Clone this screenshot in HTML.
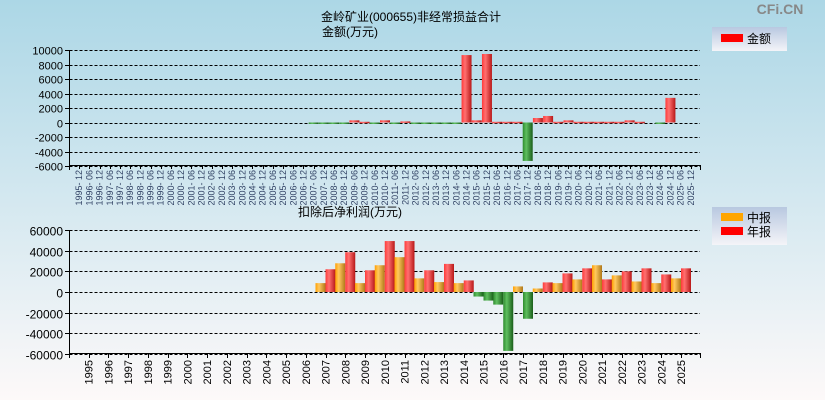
<!DOCTYPE html>
<html><head><meta charset="utf-8">
<style>
html,body{margin:0;padding:0;}
body{width:825px;height:400px;overflow:hidden;font-family:"Liberation Sans","Noto Sans CJK SC",sans-serif;}
svg{display:block;}
</style></head>
<body>
<svg id="chart" width="825" height="400" xmlns="http://www.w3.org/2000/svg">
<defs>
<linearGradient id="bg" x1="0" y1="0" x2="0" y2="1">
<stop offset="0" stop-color="#acd7e6"/><stop offset="0.5" stop-color="#d4e8f0"/><stop offset="1" stop-color="#fdf9f9"/>
</linearGradient>
<linearGradient id="gr" x1="0" y1="0" x2="1" y2="0"><stop offset="0" stop-color="#ff3a3a"/><stop offset="0.35" stop-color="#ff7070"/><stop offset="1" stop-color="#b81818"/></linearGradient>
<linearGradient id="gg" x1="0" y1="0" x2="1" y2="0"><stop offset="0" stop-color="#2e8b2e"/><stop offset="0.35" stop-color="#5fbf5f"/><stop offset="1" stop-color="#1a5e1a"/></linearGradient>
<linearGradient id="go" x1="0" y1="0" x2="1" y2="0"><stop offset="0" stop-color="#ffa000"/><stop offset="0.35" stop-color="#ffc860"/><stop offset="1" stop-color="#b07818"/></linearGradient>
<linearGradient id="lg" x1="0" y1="0" x2="0" y2="1"><stop offset="0" stop-color="#b8c8e0"/><stop offset="1" stop-color="#f4f4f8"/></linearGradient>
</defs>
<rect width="825" height="400" fill="url(#bg)"/>
<text x="780" y="14" font-size="14" font-weight="bold" fill="#888" text-anchor="middle">CFi.CN</text>
<text x="411" y="21" font-size="12" text-anchor="middle">金岭矿业(000655)非经常损益合计</text>
<text x="322" y="36" font-size="12">金额(万元)</text>
<text x="350" y="216" font-size="12" text-anchor="middle">扣除后净利润(万元)</text>
<g>
<rect x="712" y="27" width="75" height="24" fill="url(#lg)"/>
<rect x="721" y="34" width="22" height="8" fill="#f00"/>
<text x="747" y="43" font-size="12">金额</text>
</g>
<g>
<rect x="712" y="207" width="75" height="38" fill="url(#lg)"/>
<rect x="721" y="213" width="22" height="8" fill="#ffa500"/>
<text x="747" y="222" font-size="12">中报</text>
<rect x="721" y="227" width="22" height="8" fill="#f00"/>
<text x="747" y="236" font-size="12">年报</text>
</g>
<g id="topchart"></g>
<g id="botchart"></g>
</svg>
<script>
// Top chart data: non-recurring gains per period (万元)
const topPeriods = [];
for (let y = 1995; y <= 2025; y++) { if (y > 1995) topPeriods.push(y + '-06'); topPeriods.push(y + '-12'); }
const topValues = {
 '2007-06':-50,'2007-12':-200,'2008-06':-100,'2008-12':-100,'2009-06':300,'2009-12':100,'2010-06':-50,'2010-12':300,
 '2011-06':-100,'2011-12':150,'2012-06':-100,'2012-12':-200,'2013-06':-100,'2013-12':-200,'2014-06':-100,'2014-12':9300,
 '2015-06':300,'2015-12':9450,'2016-06':100,'2016-12':100,'2017-06':100,'2017-12':-5300,'2018-06':620,'2018-12':900,
 '2019-06':100,'2019-12':300,'2020-06':100,'2020-12':100,'2021-06':100,'2021-12':100,'2022-06':100,'2022-12':300,
 '2023-06':100,'2024-06':-50,'2024-12':3400
};
const topTicks = [10000,8000,6000,4000,2000,0,-2000,-4000,-6000];
// Bottom chart data: deducted net profit (万元)
const botYears = [];
for (let y = 1995; y <= 2025; y++) botYears.push(y);
const interimValues = [null,null,null,null,null,null,null,null,null,null,null,null,8600,27800,8600,25900,33700,13200,9600,8600,-4400,-12200,5400,3400,8600,12200,25900,16100,10200,8600,13200];
const annualValues = [null,null,null,null,null,null,null,null,null,null,null,null,22000,38500,21000,49300,49300,21000,27200,11200,-8300,-57000,-25900,9300,18000,22900,12200,20000,22900,17000,22900];
const botTicks = [60000,40000,20000,0,-20000,-40000,-60000];

const NS = 'http://www.w3.org/2000/svg';
function mk(parent, tag, attrs, txt) {
  const e = document.createElementNS(NS, tag);
  for (const k in attrs) e.setAttribute(k, attrs[k]);
  if (txt !== undefined) e.textContent = txt;
  parent.appendChild(e); return e;
}
const AX = 69.5;
// ---- top chart
const topG = document.getElementById('topchart');
const tY = v => 122.5 - (v) * (116 / 16000);
const tW = 632 / 62;
const tX = i => 69 + tW * (i + 1);
topTicks.forEach(t => {
  const y = Math.round(tY(t)) + 0.5;
  const g = mk(topG, 'line', {x1: AX, x2: 700, y1: y, y2: y, stroke: '#000', 'stroke-dasharray': '3,2', 'stroke-width': 1});
  
  
  mk(topG, 'line', {x1: 65, x2: AX, y1: y, y2: y, stroke: '#000'});
  const l = mk(topG, 'text', {x: 63, y: y + 4, 'font-size': 11, 'text-anchor': 'end'}, t);
  
  
});
mk(topG, 'line', {x1: AX, x2: AX, y1: 50, y2: 170, stroke: '#000'});
mk(topG, 'line', {x1: AX, x2: 701, y1: 165.5, y2: 165.5, stroke: '#000'});
mk(topG, 'line', {x1: 700.5, x2: 700.5, y1: 165, y2: 170, stroke: '#000'});
topPeriods.forEach((p, i) => {
  const x = tX(i);
  mk(topG, 'line', {x1: Math.round(x) + 0.5, x2: Math.round(x) + 0.5, y1: 165, y2: 169, stroke: '#000'});
  const l = mk(topG, 'text', {transform: `translate(${x + 3},170) rotate(-90)`, 'font-size': 9, 'text-anchor': 'end', fill: '#334466'}, p.replace('-', '- '));
  
  
  const v = topValues[p];
  if (v === undefined || v === null) return;
  const y0 = tY(0), y1 = tY(v);
  const r = mk(topG, 'rect', {x: x - 5, y: Math.min(y0, y1), width: 10, height: Math.max(1.5, Math.abs(y1 - y0)), fill: v >= 0 ? 'url(#gr)' : 'url(#gg)'});
  
  
});
// ---- bottom chart
const botG = document.getElementById('botchart');
const bY = v => 292 - v * (124 / 120000);
const bX = i => 88.5 + 19.75 * i;
botTicks.forEach(t => {
  const y = Math.round(bY(t)) + 0.5;
  const g = mk(botG, 'line', {x1: AX, x2: 700, y1: y, y2: y, stroke: '#000', 'stroke-dasharray': '3,2'});
  
  
  mk(botG, 'line', {x1: 65, x2: AX, y1: y, y2: y, stroke: '#000'});
  const l = mk(botG, 'text', {x: 63, y: y + 5, 'font-size': 12, 'text-anchor': 'end'}, t);
  
  
});
mk(botG, 'line', {x1: AX, x2: AX, y1: 230, y2: 358, stroke: '#000'});
mk(botG, 'line', {x1: AX, x2: 701, y1: 353.5, y2: 353.5, stroke: '#000'});
mk(botG, 'line', {x1: 700.5, x2: 700.5, y1: 353, y2: 358, stroke: '#000'});
botYears.forEach((yr, i) => {
  const x = bX(i);
  mk(botG, 'line', {x1: Math.round(x) + 0.5, x2: Math.round(x) + 0.5, y1: 353, y2: 358, stroke: '#000'});
  const l = mk(botG, 'text', {transform: `translate(${x + 4},360) rotate(-90)`, 'font-size': 11, 'text-anchor': 'end'}, yr);
  
  
  const y0 = bY(0);
  const iv = interimValues[i];
  if (iv !== null) {
    const y1 = bY(iv);
    const r = mk(botG, 'rect', {x: x - 10, y: Math.min(y0, y1), width: 10, height: Math.abs(y1 - y0), fill: iv >= 0 ? 'url(#go)' : 'url(#gg)'});
    
    
  }
  const av = annualValues[i];
  if (av !== null) {
    const y1 = bY(av);
    const r = mk(botG, 'rect', {x: x, y: Math.min(y0, y1), width: 10, height: Math.abs(y1 - y0), fill: av >= 0 ? 'url(#gr)' : 'url(#gg)'});
    
    
  }
});
</script>
</body></html>
